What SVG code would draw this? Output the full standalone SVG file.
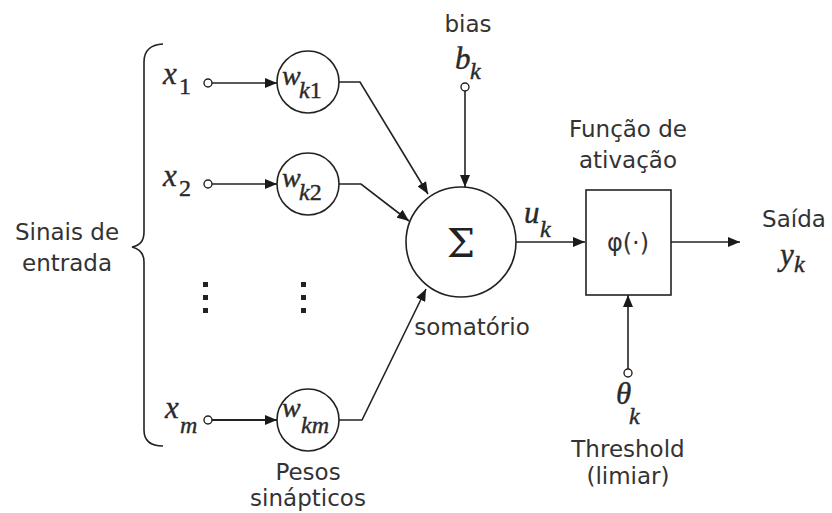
<svg xmlns="http://www.w3.org/2000/svg" width="832" height="513" viewBox="0 0 832 513">
<defs>
<marker id="arr" viewBox="0 0 12 10" refX="12" refY="5" markerWidth="12" markerHeight="10" markerUnits="userSpaceOnUse" orient="auto">
<path d="M0,0 L12,5 L0,10 z" fill="#1a1a1a"/>
</marker>
<style>
.ln{fill:none;stroke:#222;stroke-width:1.6}
.node{fill:#fff;stroke:#222;stroke-width:1.6}
.dot{fill:#fff;stroke:#222;stroke-width:1.4}
.lbl{font-family:"DejaVu Sans",sans-serif;font-size:23px;fill:#333;text-anchor:middle}
.m{font-family:"Liberation Serif","DejaVu Serif",serif;font-style:italic;font-size:31px;fill:#2a2a2a;stroke:#2a2a2a;stroke-width:0.4}
.s{font-size:24px}
.up{font-style:normal}
.vd{fill:#222}
</style>
</defs>
<rect width="832" height="513" fill="#fff"/>

<g id="connectors">
<circle class="dot" cx="208" cy="83" r="4"/>
<line class="ln" x1="212" y1="83" x2="277" y2="83" marker-end="url(#arr)"/>
<circle class="dot" cx="208" cy="184" r="4"/>
<line class="ln" x1="212" y1="184" x2="277" y2="184" marker-end="url(#arr)"/>
<circle class="dot" cx="208" cy="420" r="4"/>
<line class="ln" x1="212" y1="420" x2="277" y2="420" marker-end="url(#arr)" style="stroke-width:2"/>
<polyline class="ln" points="339,82 360,82 428,194" marker-end="url(#arr)"/>
<polyline class="ln" points="339,184 361,184 409,221" marker-end="url(#arr)"/>
<polyline class="ln" points="339,420 362,420 426,289" marker-end="url(#arr)"/>
<circle class="dot" cx="465" cy="87" r="4"/>
<line class="ln" x1="465" y1="91" x2="465" y2="187" marker-end="url(#arr)"/>
<line class="ln" x1="516" y1="242" x2="585" y2="242" marker-end="url(#arr)"/>
<line class="ln" x1="671" y1="242" x2="740" y2="242" marker-end="url(#arr)"/>
<circle class="dot" cx="628" cy="373" r="4"/>
<line class="ln" x1="628" y1="369" x2="628" y2="295" marker-end="url(#arr)"/>
</g>

<g id="brace">
<path class="ln" d="M163,44 Q144,45 144,62 L144,232 Q144,245 132,247 Q144,250 144,262 L144,430 Q144,446 163,446"/>
<text class="lbl" x="67" y="240">Sinais de</text>
<text class="lbl" x="67" y="271">entrada</text>
</g>

<g id="x1"><text class="m" x="163" y="84">x<tspan class="s up" x="179" y="94">1</tspan></text></g>
<g id="x2"><text class="m" x="163" y="186">x<tspan class="s up" x="179" y="196">2</tspan></text></g>
<g id="xm"><text class="m" x="165" y="418">x<tspan class="s" x="180" y="433">m</tspan></text></g>

<g id="dots">
<rect class="vd" x="203" y="282" width="5" height="5"/>
<rect class="vd" x="203" y="295" width="5" height="5"/>
<rect class="vd" x="203" y="308" width="5" height="5"/>
<rect class="vd" x="301" y="282" width="5" height="5"/>
<rect class="vd" x="301" y="295" width="5" height="5"/>
<rect class="vd" x="301" y="308" width="5" height="5"/>
</g>

<g id="wk1">
<circle class="node" cx="308" cy="82" r="31"/>
<text class="m" x="282" y="85" style="font-size:28px">w<tspan class="s" x="299" y="98">k</tspan><tspan class="s up">1</tspan></text>
</g>
<g id="wk2">
<circle class="node" cx="308" cy="184" r="31"/>
<text class="m" x="282" y="187" style="font-size:28px">w<tspan class="s" x="299" y="200">k</tspan><tspan class="s up">2</tspan></text>
</g>
<g id="wkm">
<circle class="node" cx="308" cy="420" r="31"/>
<text class="m" x="282" y="417" style="font-size:28px">w<tspan class="s" x="301" y="433">km</tspan></text>
<text class="lbl" x="308" y="480">Pesos</text>
<text class="lbl" x="308" y="506">sinápticos</text>
</g>

<g id="bias">
<text class="lbl" x="468" y="32">bias</text>
<text class="m" x="455" y="69">b<tspan class="s" x="470" y="79">k</tspan></text>
</g>

<g id="sum">
<circle class="node" cx="461" cy="242" r="55"/>
<text x="461" y="257" text-anchor="middle" font-family="DejaVu Serif, serif" font-size="40" fill="#222">Σ</text>
<text class="lbl" x="472" y="335">somatório</text>
</g>

<g id="uk"><text class="m" x="524" y="223">u<tspan class="s" x="540" y="237">k</tspan></text></g>

<g id="activation">
<text class="lbl" x="628" y="137">Função de</text>
<text class="lbl" x="628" y="168">ativação</text>
<rect class="node" x="586" y="190" width="85" height="105"/>
<text class="lbl" x="628" y="251" style="font-size:24px">φ(·)</text>
</g>

<g id="output">
<text class="lbl" x="794" y="227">Saída</text>
<text class="m" x="780" y="265">y<tspan class="s" x="794" y="272">k</tspan></text>
</g>

<g id="threshold">
<text class="m" x="616" y="404">θ<tspan class="s" x="629" y="424">k</tspan></text>
<text class="lbl" x="628" y="457">Threshold</text>
<text class="lbl" x="628" y="484">(limiar)</text>
</g>
</svg>
